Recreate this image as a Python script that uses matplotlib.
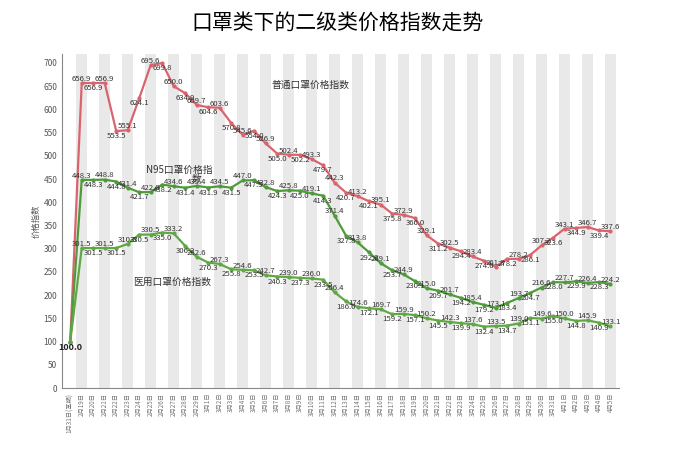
import matplotlib
matplotlib.use("Agg")
import matplotlib.pyplot as plt

plt.rcParams['font.family'] = ['Noto Sans CJK SC', 'DejaVu Sans']

dates = ["1月31日(基期)"] + [f"2月{d}日" for d in range(19, 30)] + [f"3月{d}日" for d in range(1, 32)] + [f"4月{d}日" for d in range(1, 6)]

regular = [100, 656.9, 656.9, 656.9, 553.5, 555.1, 624.1, 695.6, 699.8, 650.0, 634.9, 609.7,
           604.6, 603.6, 570.8, 545.6, 554.0, 526.9, 505.0, 502.4, 502.2, 493.3, 479.7, 442.3,
           420.7, 413.2, 402.1, 395.1, 375.8, 372.9, 366.0, 329.1, 311.2, 302.5, 294.4, 283.4,
           274.0, 261.3, 278.2, 278.2, 286.1, 307.2, 323.6, 343.1, 344.9, 346.7, 339.4, 337.6]
n95 = [100, 448.3, 448.3, 448.8, 444.8, 431.4, 421.7, 422.0, 438.2, 434.6, 431.4, 435.4,
       431.9, 434.5, 431.5, 447.0, 447.5, 432.8, 424.3, 425.8, 425.0, 419.1, 414.3, 371.4,
       327.8, 313.8, 292.2, 269.1, 253.7, 244.9, 230.1, 215.0, 209.7, 201.7, 194.2, 185.4,
       179.2, 173.1, 183.4, 193.7, 204.7, 216.6, 228.0, 227.7, 229.9, 226.4, 228.3, 224.2]
medical = [100, 301.5, 301.5, 301.5, 301.5, 310.5, 330.5, 330.5, 335.0, 333.2, 306.2, 282.6,
           270.3, 267.3, 255.8, 254.6, 253.5, 242.7, 240.3, 239.0, 237.3, 236.0, 233.5, 206.4,
           186.6, 174.6, 172.1, 169.7, 159.2, 159.9, 157.1, 150.2, 145.5, 142.3, 139.9, 137.6,
           132.4, 133.5, 134.7, 139.0, 151.1, 149.6, 155.0, 150.0, 144.8, 145.9, 140.9, 133.1]

fig = plt.figure(figsize=(6.76, 4.55), dpi=100)
ax = fig.add_axes([0.092, 0.147, 0.823, 0.735])
x = list(range(len(dates)))
for i in x:
    if i % 2 == 1:
        ax.bar(i, 720, width=0.95, color='#e9e9e9', zorder=0)

series = [(regular, '#d9646e'), (n95, '#4f9a3a'), (medical, '#5fa844')]
for vals, c in series:
    ax.plot(x, vals, color=c, lw=1.6, marker='o', ms=2, zorder=3)
    for i, v in enumerate(vals):
        if i == 0:
            continue
        off = 9 if i % 2 == 1 else -11
        ax.text(i, v + off, f"{v:.1f}", fontsize=5.6, ha='center', va='center', color='#333333', zorder=4)
ax.text(0, 88, "100.0", fontsize=6.5, ha='center', va='center', fontweight='bold', color='#222222')

ax.text(17.5, 652, "普通口罩价格指数", fontsize=7, ha='left', va='center', color='#333333')
ax.text(9.5, 470, "N95口罩价格指", fontsize=7, ha='center', va='center', color='#333333')
ax.text(11, 450, "数", fontsize=7, ha='center', va='center', color='#333333')
ax.text(5.5, 228, "医用口罩价格指数", fontsize=7, ha='left', va='center', color='#333333')

ax.set_xlim(-0.7, len(dates) - 0.3)
ax.set_ylim(0, 720)
ax.set_yticks(range(0, 701, 50))
ax.tick_params(axis='y', labelsize=6, colors='#555555', length=0)
ax.set_xticks(x)
ax.set_xticklabels(dates, rotation=90, fontsize=4.5, color='#777777')
ax.tick_params(axis='x', length=0)
ax.set_ylabel("价格指数", fontsize=6, color='#555555', labelpad=2)
for s in ['top', 'right']:
    ax.spines[s].set_visible(False)
for s in ['left', 'bottom']:
    ax.spines[s].set_color('#888888')
fig.suptitle("口罩类下的二级类价格指数走势", fontsize=15, y=0.975)
fig.savefig("out.png", dpi=100)
